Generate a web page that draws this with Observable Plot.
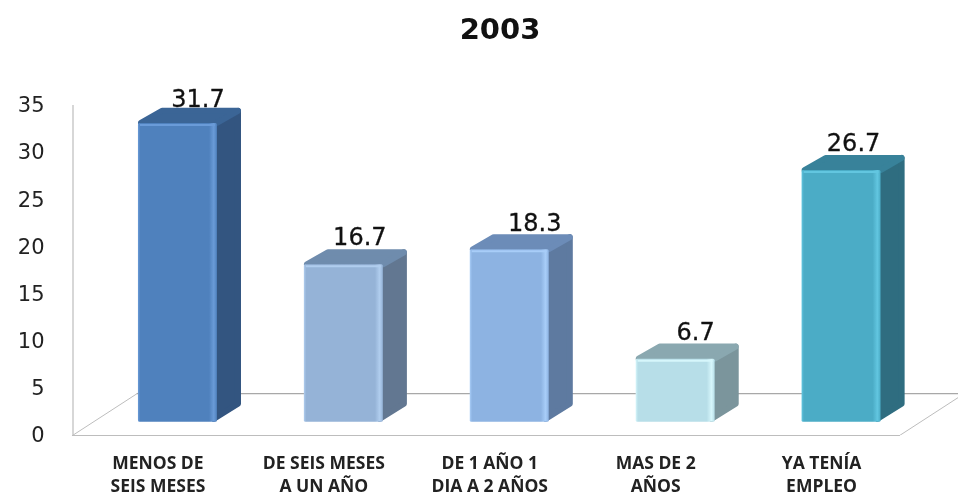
<!DOCTYPE html>
<html><head><meta charset="utf-8">
<script src="https://cdn.jsdelivr.net/npm/d3@7"></script>
<script src="https://cdn.jsdelivr.net/npm/@observablehq/plot@0.6"></script>
<style>
html,body{margin:0;padding:0;background:#fff;overflow:hidden}
#title{height:60px;line-height:58px;padding-left:42px;text-align:center;font:bold 29px/58px "DejaVu Sans",sans-serif;color:#111;filter:blur(0.3px)}
svg{display:block;filter:blur(0.4px)}
</style></head><body>
<div id="title">2003</div>
<div id="chart"></div>
<script>
const title = "2003";
const categories = ["MENOS DE\nSEIS MESES","DE SEIS MESES\nA UN AÑO","DE 1 AÑO 1\nDIA A 2 AÑOS","MAS DE 2\nAÑOS","YA TENÍA\nEMPLEO"];
const values = [31.7,16.7,18.3,6.7,26.7];
const yTicks = [0,5,10,15,20,25,30,35];

// styles and layout, separate from the data
const frontColors = ["#4f81bd","#95b3d7","#8db3e2","#b7dee8","#4bacc6"];
const lightColors = ["#6a9bd8","#b0cdee","#a8cdf8","#d6f6fb","#62c6e0"];
const sideColors  = ["#335580","#627791","#5e7aa0","#7b959c","#2f6d80"];
const topColors   = ["#3b6596","#6f8cad","#6c8cb8","#8aa8b0","#38829a"];
const labelNudge  = [20,16,25,20,12];
const labelLift   = [24,28,26,27,27];
const halfW = 0.238, depthX = 0.145, depthY = 1.6, base = 1.4;
const padX = 0.018, padY = 0.32;
const floorX = 0.39, floorY = 4.45;
const xMin = -0.6355, xMax = 4.7048, floorRight = 4.35;
const wall = "#bdbdbd";

const defs = () => {
  const ns = "http://www.w3.org/2000/svg";
  const d = document.createElementNS(ns,"defs");
  frontColors.forEach((c,i)=>{
    const g = document.createElementNS(ns,"linearGradient");
    g.setAttribute("id","front"+i);
    [[0,lightColors[i]],[0.03,c],[0.9,c],[0.96,lightColors[i]],[1,c]].forEach(([o,col])=>{
      const s = document.createElementNS(ns,"stop");
      s.setAttribute("offset",o); s.setAttribute("stop-color",col); g.appendChild(s);
    });
    d.appendChild(g);
  });
  return d;
};

const barMarks = [];
values.forEach((v,i)=>{
  const top = v + base, l = i - halfW, r = i + halfW;
  barMarks.push(Plot.text([v],{x:()=>i,y:()=>top,text:d=>d.toFixed(1),dx:labelNudge[i],dy:-labelLift[i],
    fontSize:24,fontFamily:"DejaVu Sans",fill:"#111",textAnchor:"middle",stroke:"#111",strokeWidth:0.3}));
  const side = [[r-padX,base+padY,top],[r+depthX-padX,base+depthY+padY,top+depthY-padY]];
  barMarks.push(Plot.areaY(side,{x:d=>d[0],y1:d=>d[1],y2:d=>d[2],fill:sideColors[i],
    stroke:sideColors[i],strokeWidth:6,strokeLinejoin:"round"}));
  const capTop = top + depthY - padY;
  const cap = [[l+padX,top,top],[l+depthX,top,capTop],[r,top,capTop],[r+depthX-padX,capTop,capTop]];
  barMarks.push(Plot.areaY(cap,{x:d=>d[0],y1:d=>d[1],y2:d=>d[2],fill:topColors[i],
    stroke:topColors[i],strokeWidth:6,strokeLinejoin:"round"}));
  barMarks.push(Plot.rect([v],{x1:()=>l,x2:()=>r,y1:()=>base,y2:()=>top,fill:`url(#front${i})`,r:1.5}));
  barMarks.push(Plot.ruleY([top],{x1:l+0.012,x2:r-0.012,stroke:lightColors[i],strokeWidth:2,dy:1.5}));
});

const plot = Plot.plot({
  width:958, height:437,
  marginLeft:72, marginRight:0, marginTop:45, marginBottom:62,
  x:{type:"linear",domain:[xMin,xMax]},
  y:{domain:[0,35]},
  marks:[
    defs,
    Plot.axisY({ticks:yTicks,tickSize:0,tickPadding:28,label:null,fontSize:21,fontFamily:"DejaVu Sans",fill:"#222"}),
    Plot.axisX({ticks:[0,1,2,3,4],tickFormat:i=>categories[i],tickSize:0,tickPadding:0,label:null,dx:-20,dy:17,
      fontSize:17.5,fontWeight:700,fontFamily:"Open Sans",fill:"#222",lineHeight:1.31,lineWidth:30}),
    Plot.ruleX([xMin],{y1:0,y2:35,stroke:wall,strokeWidth:1.2,dx:0.5}),
    Plot.line([[xMin,0],[floorRight,0]],{stroke:wall,strokeWidth:1.2}),
    Plot.line([[xMin,0],[xMin+floorX,floorY]],{stroke:wall,strokeWidth:1}),
    Plot.line([[floorRight,0],[floorRight+floorX,floorY]],{stroke:wall,strokeWidth:1,clip:true}),
    Plot.line([[xMin+floorX,floorY],[xMax,floorY]],{stroke:"#a8a8a8",strokeWidth:1.2}),
    ...barMarks
  ]
});
document.getElementById("chart").appendChild(plot);
</script>
</body></html>
